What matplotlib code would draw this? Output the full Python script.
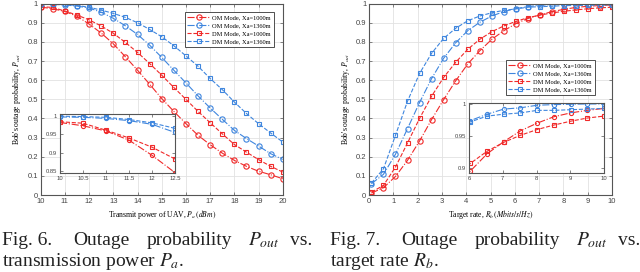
import matplotlib
matplotlib.use('Agg')
import matplotlib.pyplot as plt

plt.rcParams['mathtext.fontset'] = 'stix'

# Fig. 6: outage probability vs transmit power
pa = [10, 10.5, 11, 11.5, 12, 12.5, 13, 13.5, 14, 14.5, 15,
      15.5, 16, 16.5, 17, 17.5, 18, 18.5, 19, 19.5, 20]
om_1000_pa = [0.982, 0.973, 0.959, 0.934, 0.893, 0.846, 0.790, 0.722, 0.652, 0.579, 0.504,
              0.437, 0.373, 0.312, 0.263, 0.219, 0.181, 0.150, 0.124, 0.106, 0.085]
om_1360_pa = [0.997, 0.996, 0.993, 0.987, 0.977, 0.955, 0.923, 0.884, 0.839, 0.783, 0.719,
              0.652, 0.586, 0.518, 0.455, 0.396, 0.338, 0.295, 0.256, 0.216, 0.186]
dm_1000_pa = [0.984, 0.980, 0.961, 0.940, 0.915, 0.883, 0.845, 0.797, 0.745, 0.687, 0.626,
              0.562, 0.500, 0.437, 0.378, 0.320, 0.264, 0.224, 0.185, 0.150, 0.120]
dm_1360_pa = [0.999, 0.998, 0.996, 0.990, 0.981, 0.966, 0.949, 0.928, 0.900, 0.865, 0.827,
              0.780, 0.727, 0.673, 0.609, 0.551, 0.486, 0.426, 0.373, 0.324, 0.277]

# Fig. 7: outage probability vs target rate
rb = [0.1, 0.595, 1.09, 1.585, 2.08, 2.575, 3.07, 3.565, 4.06, 4.555, 5.05,
      5.545, 6.04, 6.535, 7.03, 7.525, 8.02, 8.515, 9.01, 9.505, 10.0]
om_1000_rb = [0.010, 0.038, 0.097, 0.181, 0.282, 0.394, 0.498, 0.596, 0.684, 0.753, 0.813,
              0.858, 0.895, 0.922, 0.941, 0.958, 0.970, 0.980, 0.986, 0.990, 0.993]
om_1360_rb = [0.059, 0.108, 0.213, 0.347, 0.483, 0.608, 0.714, 0.795, 0.858, 0.902, 0.935,
              0.958, 0.974, 0.984, 0.992, 0.994, 0.998, 0.999, 0.9995, 1.0, 1.0]
dm_1000_rb = [0.015, 0.050, 0.146, 0.272, 0.400, 0.516, 0.614, 0.693, 0.761, 0.813, 0.853,
              0.883, 0.907, 0.926, 0.940, 0.951, 0.960, 0.967, 0.973, 0.978, 0.981]
dm_1360_rb = [0.062, 0.137, 0.312, 0.490, 0.635, 0.740, 0.818, 0.871, 0.910, 0.935, 0.952,
              0.965, 0.972, 0.981, 0.984, 0.986, 0.990, 0.990, 0.991, 0.992, 0.993]

labels = ['OM Mode, Xa=1000m', 'OM Mode, Xa=1360m', 'DM Mode, Xa=1000m', 'DM Mode, Xa=1360m']

RED = '#f02a2a'
BLUE = '#3f86de'
FRAME = '#555555'
TICK = '#444444'
styles = [(RED, '-.', 'o'), (BLUE, '-.', 'o'), (RED, '--', 's'), (BLUE, '--', 's')]


def draw_lines(ax, x, series, ms=3.8):
    for (c, ls, m), y, lab in zip(styles, series, labels):
        ax.plot(x, y, color=c, linestyle=ls, marker=m, markersize=ms if m == 'o' else ms * 0.85,
                markerfacecolor='none', markeredgewidth=0.8, linewidth=0.8, label=lab)


def style_axes(ax, tick_size):
    for s in ax.spines.values():
        s.set_color(FRAME)
        s.set_linewidth(0.8)
    ax.tick_params(direction='in', top=True, right=True, length=2, width=0.5,
                   colors=FRAME, labelcolor=TICK, labelsize=tick_size, pad=2)
    for t in ax.get_xticklabels() + ax.get_yticklabels():
        t.set_family('Liberation Sans')


def add_legend(ax, anchor):
    leg = ax.legend(loc='upper right', bbox_to_anchor=anchor, prop={'family': 'Liberation Serif', 'size': 4.6},
                    handlelength=3.6, labelspacing=0.38, borderpad=0.45, handletextpad=0.3,
                    fancybox=False, framealpha=1, edgecolor='#333333')
    leg.get_frame().set_linewidth(0.6)


fig = plt.figure(figsize=(6.4, 2.72), dpi=100)

# ---------- left panel ----------
ax1 = fig.add_axes([40.7 / 640, 77 / 272, 242 / 640, 191.4 / 272])
draw_lines(ax1, pa, [om_1000_pa, om_1360_pa, dm_1000_pa, dm_1360_pa])
ax1.set_xlim(10, 20)
ax1.set_ylim(0, 1)
ax1.set_xticks(range(10, 21))
ax1.set_yticks([i / 10 for i in range(11)])
ax1.set_yticklabels(['%g' % (i / 10) for i in range(11)])
ax1.grid(True, color='#e2e2e2', linewidth=0.6)
style_axes(ax1, 5.5)
ax1.set_xlabel(r'Transmit power of UAV, $P_a\,(dBm)$', family='Liberation Serif', fontsize=5.5, labelpad=2)
ax1.set_ylabel(r"Bob's outage probability, $P_{out}$", family='Liberation Serif', fontsize=5.5, labelpad=3)
add_legend(ax1, (0.976, 0.972))

in1 = fig.add_axes([60 / 640, 99 / 272, 115 / 640, 59 / 272])
draw_lines(in1, pa, [om_1000_pa, om_1360_pa, dm_1000_pa, dm_1360_pa], ms=3.0)
in1.set_xlim(10, 12.5)
in1.set_ylim(0.845, 1.005)
in1.set_xticks([10, 10.5, 11, 11.5, 12, 12.5])
in1.set_xticklabels(['10', '10.5', '11', '11.5', '12', '12.5'])
in1.set_yticks([0.85, 0.9, 0.95, 1.0])
in1.set_yticklabels(['0.85', '0.9', '0.95', '1'])
style_axes(in1, 4.2)

# ---------- right panel ----------
ax2 = fig.add_axes([369 / 640, 77 / 272, 243 / 640, 191.4 / 272])
draw_lines(ax2, rb, [om_1000_rb, om_1360_rb, dm_1000_rb, dm_1360_rb])
ax2.set_xlim(0, 10)
ax2.set_ylim(0, 1)
ax2.set_xticks(range(0, 11))
ax2.set_yticks([i / 10 for i in range(11)])
ax2.set_yticklabels(['%g' % (i / 10) for i in range(11)])
ax2.grid(True, color='#e2e2e2', linewidth=0.6)
style_axes(ax2, 5.5)
ax2.set_xlabel(r'Target rate, $R_b\,(Mbits/s/Hz)$', family='Liberation Serif', fontsize=5.5, labelpad=2)
ax2.set_ylabel(r"Bob's outage probability, $P_{out}$", family='Liberation Serif', fontsize=5.5, labelpad=3)
add_legend(ax2, (0.942, 0.721))

in2 = fig.add_axes([469 / 640, 99 / 272, 135 / 640, 70 / 272])
draw_lines(in2, rb, [om_1000_rb, om_1360_rb, dm_1000_rb, dm_1360_rb], ms=3.0)
in2.set_xlim(6, 10)
in2.set_ylim(0.892, 1.0015)
in2.set_xticks([6, 7, 8, 9, 10])
in2.set_yticks([0.9, 0.95, 1.0])
in2.set_yticklabels(['0.9', '0.95', '1'])
style_axes(in2, 4.2)

# ---------- captions (first line justified like the paper) ----------
cap = dict(family='Liberation Serif', fontsize=14, color='#222222', va='baseline')
y1 = 1 - 245 / 272
y2 = 1 - 265.5 / 272
for off, num in [(0, '6'), (328, '7')]:
    fig.text((2 + off) / 640, y1, 'Fig. %s.' % num, **cap)
    fig.text((73 + off) / 640, y1, 'Outage', **cap)
    fig.text((147 + off) / 640, y1, 'probability', **cap)
    fig.text((248 + off) / 640, y1, r'$P_{out}$', **cap)
    fig.text((312 + off) / 640, y1, 'vs.', ha='right', **cap)
fig.text(2 / 640, y2, r'transmission power $P_a$.', **cap)
fig.text(330 / 640, y2, r'target rate $R_b$.', **cap)

fig.savefig('out.png', dpi=100)
